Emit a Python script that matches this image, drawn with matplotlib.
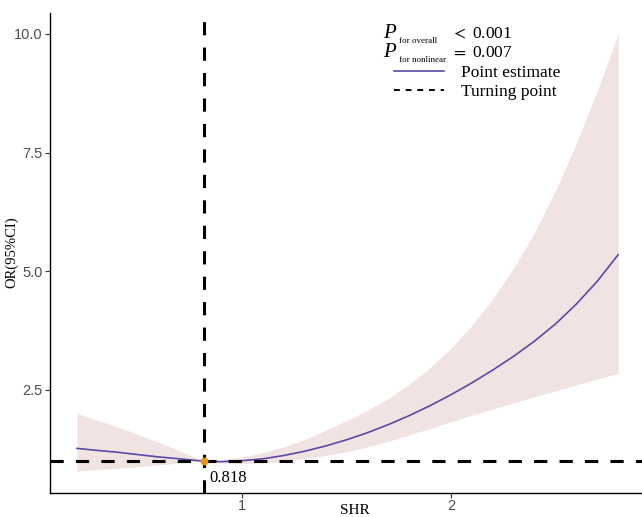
import numpy as np
import matplotlib.pyplot as plt
from matplotlib.lines import Line2D

plt.rcParams["mathtext.fontset"] = "stix"

# values
shr = [0.21, 0.3, 0.4, 0.5, 0.6, 0.7, 0.818, 0.9, 1.0, 1.1, 1.2, 1.3, 1.4, 1.5,
       1.6, 1.7, 1.8, 1.9, 2.0, 2.1, 2.2, 2.3, 2.4, 2.5, 2.6, 2.7, 2.8]
or_est = [1.27, 1.23, 1.19, 1.14, 1.09, 1.05, 1.00, 0.99, 1.01, 1.05, 1.12, 1.21, 1.32, 1.45,
          1.60, 1.77, 1.96, 2.17, 2.40, 2.65, 2.92, 3.21, 3.53, 3.89, 4.31, 4.79, 5.35]
or_upper = [2.01, 1.87, 1.73, 1.57, 1.40, 1.22, 1.00, 1.03, 1.09, 1.18, 1.30, 1.46, 1.65, 1.85,
            2.07, 2.32, 2.62, 2.97, 3.38, 3.86, 4.42, 5.07, 5.82, 6.70, 7.70, 8.80, 10.0]
or_lower = [0.79, 0.82, 0.85, 0.88, 0.92, 0.96, 1.00, 0.96, 0.95, 0.96, 1.00, 1.06, 1.12, 1.20,
            1.30, 1.42, 1.55, 1.69, 1.83, 1.97, 2.10, 2.23, 2.36, 2.48, 2.61, 2.73, 2.85]

turning_point = 0.818
p_overall = r"$<$ 0.001"
p_nonlinear = r"$=$ 0.007"
x_ticks = [1, 2]
y_ticks = [2.5, 5.0, 7.5, 10.0]

SERIF = "Liberation Serif"
SANS = "Liberation Sans"
LINE_COLOR = "#5a49a6"
BAND_COLOR = "#f2e3e3"

fig = plt.figure(figsize=(6.42, 5.17), dpi=100)
ax = fig.add_axes([50 / 642, 24 / 517, 592 / 642, 480 / 517])

# confidence band and point estimate
ax.fill_between(shr, or_lower, or_upper, color=BAND_COLOR, lw=0)
ax.plot(shr, or_est, color=LINE_COLOR, lw=1.2)

# reference lines at the turning point
dash = (4.33, 4.0)
ax.axhline(1.0, color="black", lw=2.2, dashes=dash)
ax.axvline(turning_point, color="black", lw=2.2, dashes=dash)
ax.scatter([turning_point], [1.0], s=22, color="#e8951c", zorder=5)
ax.annotate(f"{turning_point:.3f}", (turning_point, 1.0), xytext=(4, -6),
            textcoords="offset points", ha="left", va="top",
            fontsize=12, family=SERIF)

ax.set_xlim(0.081, 2.914)
ax.set_ylim(0.33, 10.44)
ax.set_xticks(x_ticks)
ax.set_xticklabels([str(t) for t in x_ticks])
ax.set_yticks(y_ticks)
ax.set_yticklabels([f"{t:.1f}" for t in y_ticks])
for lab in ax.get_xticklabels() + ax.get_yticklabels():
    lab.set_family(SANS)
    lab.set_fontsize(10.5)
    lab.set_color("#4d4d4d")
ax.tick_params(length=3.5, width=0.8, color="#333333")
ax.tick_params(axis="x", pad=0.5)
ax.tick_params(axis="y", pad=2)

ax.spines["top"].set_visible(False)
ax.spines["right"].set_visible(False)
ax.spines["left"].set_linewidth(1.0)
ax.spines["bottom"].set_linewidth(1.0)


def fx(px):
    return (px - 50) / 592


def fy(py):
    return (493 - py) / 480


ax.set_xlabel("SHR", family=SERIF, fontsize=11)
ax.xaxis.set_label_coords(fx(355), fy(517))
ax.xaxis.label.set_va("bottom")
ax.set_ylabel("OR(95%CI)", family=SERIF, fontsize=10.5)
ax.yaxis.set_label_coords(fx(5), fy(252))
ax.yaxis.label.set_va("top")

# P values block
for row, (sub, val) in enumerate([("for overall", p_overall),
                                   ("for nonlinear", p_nonlinear)]):
    base = 38 + row * 19
    ax.text(fx(383), fy(base), "P", transform=ax.transAxes, family=SERIF,
            style="italic", fontsize=15, va="baseline")
    ax.text(fx(399), fy(base + 5), sub, transform=ax.transAxes, family=SERIF,
            fontsize=6.5, va="baseline")
    ax.text(fx(451), fy(base), val, transform=ax.transAxes, family=SERIF,
            fontsize=12.5, va="baseline")

handles = [Line2D([], [], color=LINE_COLOR, lw=1.2),
           Line2D([], [], color="black", lw=1.4, dashes=(3.0, 3.0))]
ax.legend(handles, ["Point estimate", "Turning point"], loc="upper left",
          bbox_to_anchor=(fx(394), fy(65)), frameon=False, borderpad=0,
          borderaxespad=0, handlelength=2.9, handletextpad=0.95,
          labelspacing=0.15, prop={"family": SERIF, "size": 12.5})

fig.savefig("out.png", dpi=100)
